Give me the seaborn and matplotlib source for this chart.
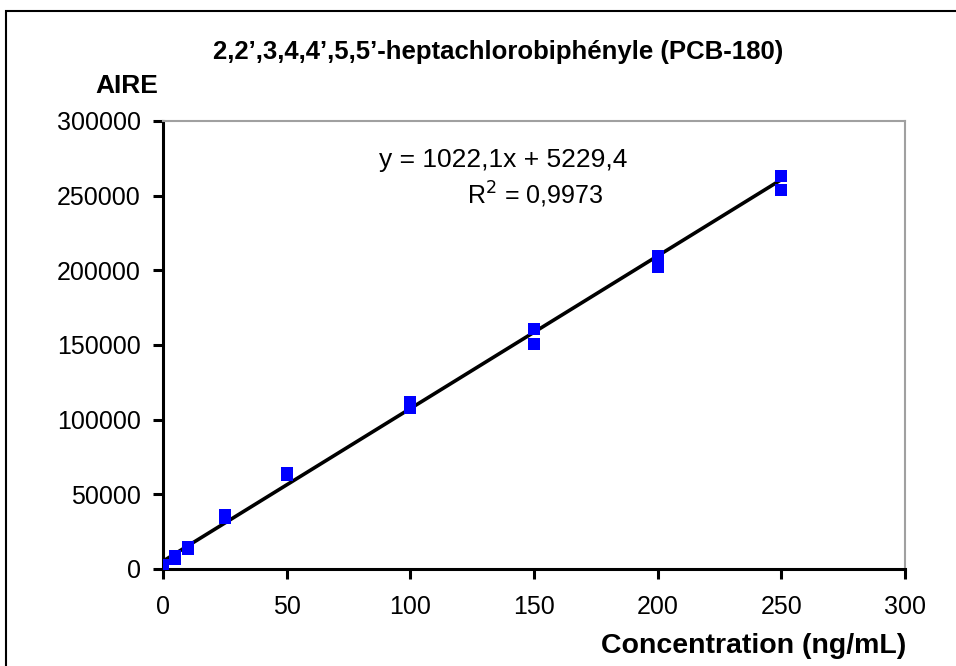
import matplotlib
matplotlib.use("Agg")
import numpy as np
import pandas as pd
import matplotlib.pyplot as plt
import seaborn as sns
from matplotlib.patches import Rectangle

# calibration points
conc = [0, 0, 5, 5, 10, 10, 25, 25, 50, 50, 100, 100, 150, 150, 200, 200, 250, 250]
aire = [1000, 2500, 7000, 8500, 13500, 14500, 34000, 36000, 63000, 64000,
        108000, 112000, 151000, 161000, 202000, 209500, 254000, 263000]

slope = 1022.1
intercept = 5229.4
r2 = 0.9973

x_ticks = [0, 50, 100, 150, 200, 250, 300]
y_ticks = [0, 50000, 100000, 150000, 200000, 250000, 300000]

sns.set_style("white")
plt.rcParams["font.family"] = ["Liberation Sans", "DejaVu Sans"]
plt.rcParams["text.color"] = "black"
plt.rcParams["xtick.color"] = "black"
plt.rcParams["ytick.color"] = "black"

df = pd.DataFrame({"conc": conc, "aire": aire})

fig = plt.figure(figsize=(9.56, 6.66), dpi=100)
ax = fig.add_axes([163 / 956, 1 - 569 / 666, (905 - 163) / 956, (569 - 121) / 666])

fit_x = np.array([0, 250])
ax.plot(fit_x, slope * fit_x + intercept, color="black", lw=2.6, zorder=2)
sns.scatterplot(data=df, x="conc", y="aire", ax=ax, marker="s", s=80,
                color="#0000ff", edgecolor="#0000ff", linewidth=0, zorder=3)

ax.set_xlim(0, 300)
ax.set_ylim(0, 300000)
ax.set_xticks(x_ticks)
ax.set_yticks(y_ticks)
ax.set_xticklabels([str(t) for t in x_ticks], fontsize=18)
ax.set_yticklabels([str(t) for t in y_ticks], fontsize=18)
ax.tick_params(direction="out", length=7, width=2.2, color="black", labelcolor="black")
ax.tick_params(axis="x", pad=12, bottom=True)
ax.tick_params(axis="y", pad=9, left=True)
ax.set_xlabel("")
ax.set_ylabel("")

for side in ["left", "bottom"]:
    ax.spines[side].set_color("black")
    ax.spines[side].set_linewidth(2.2)
for side in ["top", "right"]:
    ax.spines[side].set_color("#a0a0a0")
    ax.spines[side].set_linewidth(1.5)

ax.text((503 - 163) / 742, (569 - 160) / 448, "y = 1022,1x + 5229,4",
        transform=ax.transAxes, ha="center", va="center", fontsize=19)
ax.text((535 - 163) / 742, (569 - 195) / 448, "R$^2$ = 0,9973",
        transform=ax.transAxes, ha="center", va="center", fontsize=18)

fig.text(498 / 956, 1 - 52 / 666, "2,2’,3,4,4’,5,5’-heptachlorobiphényle (PCB-180)",
         ha="center", va="center", fontsize=18.5, fontweight="bold")
fig.text(127 / 956, 1 - 86 / 666, "AIRE", ha="center", va="center",
         fontsize=19, fontweight="bold")
fig.text(906 / 956, 1 - 646 / 666, "Concentration (ng/mL)", ha="right", va="center",
         fontsize=20.5, fontweight="bold")

# outer chart frame (cropped at right and bottom)
fig.patches.append(Rectangle((6 / 956, -0.1), 1.2, 1 - 11 / 666 + 0.1,
                             transform=fig.transFigure, fill=False,
                             edgecolor="black", linewidth=1.5))

fig.savefig("out.png", dpi=100)
